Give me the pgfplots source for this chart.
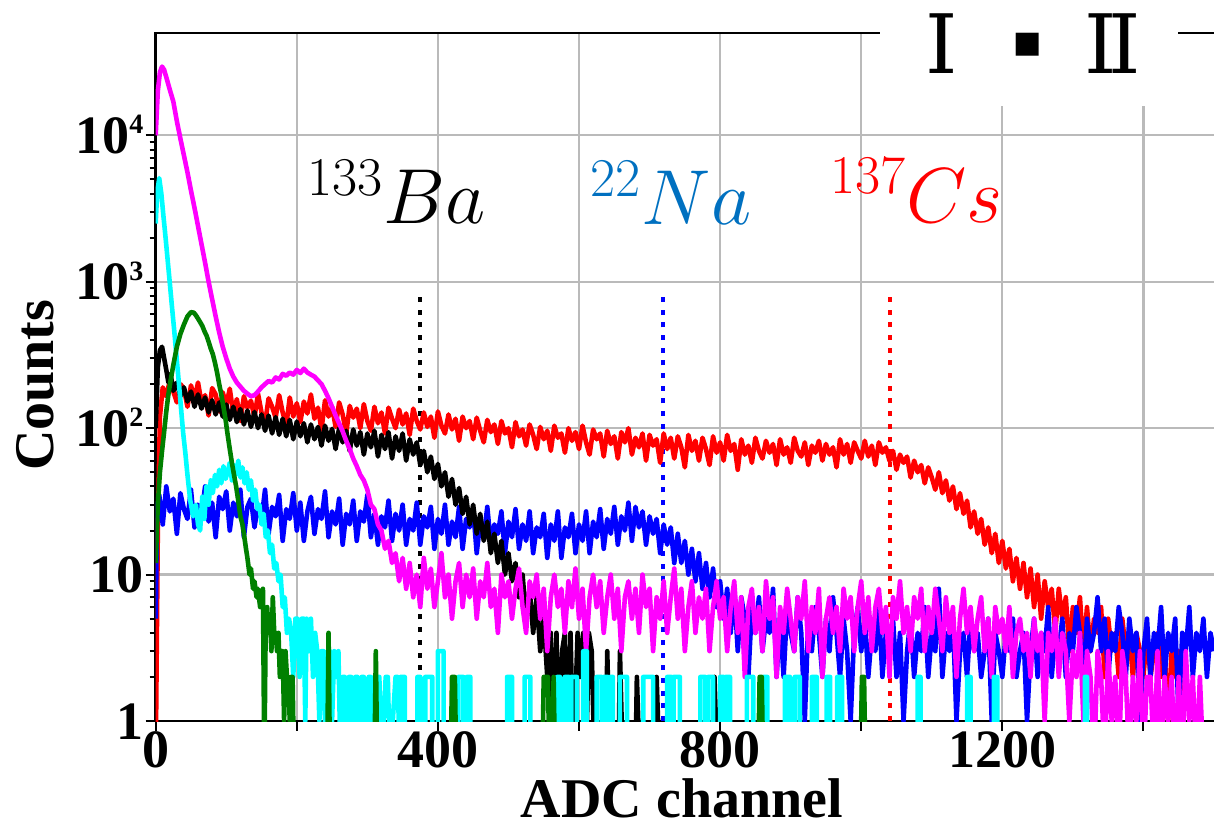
\documentclass[border=0pt]{standalone}
\usepackage{fix-cm}
\usepackage{pgfplots}
\pgfplotsset{compat=1.18}
\usepackage{fontspec}
\setmainfont{Liberation Serif}
\newfontfamily\djv{DejaVu Sans}
\newfontfamily\djs{DejaVu Serif}
\definecolor{cMag}{RGB}{255,0,255}
\definecolor{cCya}{RGB}{0,255,255}
\definecolor{cGrn}{RGB}{0,128,0}
\definecolor{cBlu}{RGB}{0,0,255}
\definecolor{cRed}{RGB}{255,0,0}
\definecolor{cNa}{RGB}{0,112,192}
\newcommand\pw[1]{10\raisebox{9.8bp}{\fontsize{14bp}{14bp}\selectfont #1}}
\begin{document}
\begin{tikzpicture}
\useasboundingbox (-77.85bp,-52bp) rectangle (529.15bp,360.5bp);
\begin{axis}[
  scale only axis, width=530.2bp, height=344bp,
  xmin=0, xmax=1503, ymode=log, ymin=1, ymax=50000,
  xtick={0,200,...,1400}, xticklabels={0,,400,,800,,1200,},
  ytick={1,10,100,1000,10000},
  yticklabels={1,10,\pw{2},\pw{3},\pw{4}},
  tick align=outside, tick pos=left,
  major tick length=5bp, minor tick length=3bp,
  grid=major, major grid style={black!27, line width=1.1bp},
  axis line style={line width=1.2bp},
  every tick/.style={black, line width=1bp},
  tick label style={font=\fontsize{27bp}{30bp}\selectfont\bfseries},
  yticklabel style={anchor=base east, inner sep=0pt, xshift=-1bp, yshift=-9.1bp},
  xticklabel style={anchor=north, inner sep=0pt},
  xlabel={ADC channel}, ylabel={Counts},
  label style={font=\fontsize{28bp}{30bp}\selectfont\bfseries},
  xlabel style={at={(axis description cs:0.4963,-0.1405)}, anchor=base, inner sep=0pt},
  ylabel style={at={(axis description cs:-0.1138,0.488)}, anchor=center, inner sep=0pt},
  every axis plot/.append style={line width=2.3bp, line join=round},
]
\addplot[black, line width=2bp, dash pattern=on 2.5bp off 3.85bp] coordinates {(375,1) (375,875)};
\addplot[cBlu, line width=2bp, dash pattern=on 2.5bp off 3.85bp] coordinates {(719,1) (719,875)};
\addplot[cRed, line width=2bp, dash pattern=on 2.5bp off 3.85bp] coordinates {(1041,1) (1041,875)};
% 137Cs
\addplot[cRed] coordinates {
(0,0.5) (3,20) (6,120) (10,190) (15,165) (20,210) (25,178) (30,150) (35,200) (40,186) (45,140) (50,196) (55,158) (60,205) (65,148) (70,168) (75,122) (80,188) (85,170) (90,130) (95,176) (100,142) (105,186) (110,125) (115,158) (120,112) (125,165) (130,138) (135,154) (140,118) (145,172) (150,128) (155,108) (160,160) (165,140) (170,118) (175,168) (180,128) (185,104) (190,162) (195,120) (200,148) (205,110) (210,152) (215,126) (220,170) (225,116) (230,138) (235,98) (240,155) (245,120) (250,140) (255,102) (260,150) (265,124) (270,92) (275,142) (280,118) (285,136) (290,100) (295,146) (300,112) (305,96) (310,140) (315,108) (320,128) (325,92) (330,138) (335,116) (340,100) (345,134) (350,106) (355,126) (360,90) (365,136) (370,112) (375,98) (380,128) (385,102) (390,120) (395,86) (400,130) (405,104) (410,92) (415,124) (420,98) (425,116) (430,82) (435,120) (440,100) (445,112) (450,84) (455,118) (460,96) (465,80) (470,114) (475,94) (480,106) (485,78) (490,112) (495,92) (500,100) (505,74) (510,110) (515,88) (520,98) (525,76) (530,106) (535,90) (540,72) (545,102) (550,84) (555,96) (560,70) (565,104) (570,86) (575,92) (580,68) (585,100) (590,82) (595,94) (600,72) (605,104) (610,80) (615,66) (620,98) (625,84) (630,92) (635,64) (640,96) (645,78) (650,88) (655,62) (660,94) (665,80) (670,100) (675,66) (680,86) (685,74) (690,92) (695,60) (700,90) (705,76) (710,84) (715,58) (720,92) (725,72) (730,86) (735,62) (740,88) (745,74) (750,54) (755,90) (760,70) (765,82) (770,60) (775,86) (780,72) (785,56) (790,88) (795,68) (800,80) (805,60) (810,90) (815,70) (820,78) (825,52) (830,84) (835,66) (840,76) (845,58) (850,86) (855,70) (860,62) (865,82) (870,68) (875,78) (880,56) (885,84) (890,66) (895,74) (900,58) (905,86) (910,70) (915,64) (920,80) (925,56) (930,76) (935,68) (940,82) (945,60) (950,78) (955,66) (960,74) (965,54) (970,84) (975,66) (980,78) (985,58) (990,80) (995,70) (1000,62) (1005,82) (1010,64) (1015,76) (1020,56) (1025,80) (1030,68) (1035,74) (1040,60) (1045,70) (1050,52) (1055,66) (1060,58) (1065,64) (1070,46) (1075,60) (1080,50) (1085,56) (1090,42) (1095,54) (1100,46) (1105,38) (1110,50) (1115,36) (1120,44) (1125,32) (1130,40) (1135,28) (1140,36) (1145,26) (1150,32) (1155,21) (1160,27) (1165,19) (1170,24) (1175,16) (1180,21) (1185,14) (1190,19) (1195,12) (1200,17) (1205,11) (1210,15) (1215,9) (1220,13) (1225,8) (1230,12) (1235,7) (1240,11) (1245,6) (1250,10) (1255,5) (1260,9) (1265,6) (1270,8) (1275,4) (1280,8) (1285,5) (1290,7) (1295,3) (1300,6) (1305,4) (1310,7) (1315,3) (1320,6) (1325,3) (1330,5) (1335,4) (1340,6) (1345,2) (1350,5) (1355,3) (1360,4) (1365,2) (1370,5) (1375,3) (1380,4) (1385,2) (1390,4) (1395,3) (1400,2) (1405,4) (1410,2) (1415,3) (1420,4) (1425,2) (1430,3) (1435,1) (1440,3) (1445,2) (1450,3) (1455,1) (1460,0.5)
};
% 22Na
\addplot[cBlu] coordinates {
(0,5) (2,28) (5,35) (10,22) (15,40) (20,27) (25,33) (30,19) (35,36) (40,28) (45,24) (50,38) (55,21) (60,30) (65,26) (70,40) (75,23) (80,31) (85,18) (90,34) (95,28) (100,37) (105,20) (110,31) (115,25) (120,38) (125,18) (130,29) (135,33) (140,21) (145,30) (150,24) (155,38) (160,19) (165,29) (170,25) (175,35) (180,17) (185,28) (190,24) (195,36) (200,20) (205,31) (210,17) (215,27) (220,34) (225,19) (230,28) (235,24) (240,37) (245,18) (250,27) (255,22) (260,33) (265,16) (270,26) (275,22) (280,32) (285,17) (290,27) (295,23) (300,35) (305,18) (310,26) (315,16) (320,25) (325,21) (330,32) (335,17) (340,26) (345,20) (350,30) (355,16) (360,24) (365,20) (370,31) (375,16) (380,25) (385,21) (390,29) (395,15) (400,24) (405,19) (410,30) (415,16) (420,23) (425,18) (430,29) (435,15) (440,24) (445,21) (450,28) (455,14) (460,23) (465,18) (470,29) (475,16) (480,22) (485,19) (490,27) (495,14) (500,23) (505,18) (510,28) (515,15) (520,22) (525,17) (530,27) (535,14) (540,21) (545,18) (550,26) (555,13) (560,22) (565,17) (570,27) (575,13) (580,21) (585,18) (590,26) (595,14) (600,22) (605,17) (610,27) (615,14) (620,23) (625,18) (630,28) (635,15) (640,24) (645,19) (650,29) (655,16) (660,25) (665,20) (670,31) (675,17) (680,29) (685,21) (690,27) (695,16) (700,25) (705,19) (710,24) (715,14) (720,22) (725,16) (730,21) (735,12) (740,19) (745,12) (750,17) (755,10) (760,15) (765,9) (770,14) (775,8) (780,12) (785,7) (790,11) (795,6) (800,9) (805,5) (810,8) (815,4) (820,8) (825,3) (830,7) (835,5) (840,2) (845,6) (850,4) (855,7) (860,3) (865,5) (870,4) (875,8) (880,2) (885,5) (890,2) (895,6) (900,4) (905,3) (910,7) (915,4) (920,1) (925,5) (930,3) (935,6) (940,4) (945,2) (950,5) (955,3) (960,7) (965,4) (970,2) (975,5) (980,3) (985,1) (990,4) (995,6) (1000,3) (1005,5) (1010,2) (1015,4) (1020,3) (1025,6) (1030,2) (1035,4) (1040,3) (1045,5) (1050,2) (1055,4) (1060,1) (1065,3) (1070,5) (1075,2) (1080,4) (1085,3) (1090,6) (1095,2) (1100,4) (1105,3) (1110,8) (1115,2) (1120,4) (1125,3) (1130,5) (1135,1) (1140,3) (1145,4) (1150,2) (1155,5) (1160,3) (1165,4) (1170,2) (1175,3) (1180,5) (1185,1) (1190,4) (1195,3) (1200,2) (1205,4) (1210,3) (1215,5) (1220,2) (1225,3) (1230,4) (1235,1) (1240,3) (1245,5) (1250,2) (1255,4) (1260,3) (1265,6) (1270,2) (1275,4) (1280,3) (1285,5) (1290,2) (1295,4) (1300,3) (1305,6) (1310,4) (1315,2) (1320,5) (1325,3) (1330,4) (1335,7) (1340,3) (1345,5) (1350,2) (1355,4) (1360,3) (1365,6) (1370,4) (1375,2) (1380,5) (1385,3) (1390,4) (1395,1) (1400,3) (1405,5) (1410,2) (1415,4) (1420,3) (1425,6) (1430,2) (1435,4) (1440,3) (1445,5) (1450,1) (1455,4) (1460,3) (1465,6) (1470,2) (1475,4) (1480,3) (1485,5) (1490,2) (1495,4) (1500,3)
};
% 133Ba
\addplot[black] coordinates {
(0,100) (3,260) (6,340) (9,360) (12,300) (15,250) (18,205) (21,235) (25,180) (30,205) (35,165) (40,190) (45,152) (50,178) (55,140) (60,170) (65,136) (70,162) (75,128) (80,155) (85,124) (90,150) (95,120) (100,145) (105,114) (110,140) (115,110) (120,135) (125,106) (130,132) (135,102) (140,129) (145,100) (150,124) (155,96) (160,122) (165,92) (170,119) (175,90) (180,116) (185,88) (190,114) (195,84) (200,111) (205,88) (210,108) (215,80) (220,106) (225,84) (230,102) (235,76) (240,104) (245,82) (250,99) (255,72) (260,100) (265,80) (270,96) (275,70) (280,98) (285,76) (290,94) (295,66) (300,92) (305,74) (310,96) (315,64) (320,90) (325,72) (330,94) (335,62) (340,88) (345,70) (350,92) (355,60) (360,84) (365,66) (370,80) (375,56) (380,70) (385,50) (390,64) (395,45) (400,57) (405,40) (410,50) (415,34) (420,45) (425,30) (430,39) (435,26) (440,34) (445,22) (450,30) (455,19) (460,26) (465,17) (470,23) (475,14) (480,19) (485,12) (490,17) (495,10) (500,14) (505,9) (510,12) (515,7) (520,10) (525,5) (530,8) (535,4) (540,7) (545,3) (550,5) (555,2) (560,4) (563,0.5) (568,4) (572,0.5) (576,3) (580,4) (584,0.5) (588,4) (592,0.5) (598,4) (602,2) (606,4) (610,0.5) (614,4) (618,3) (622,0.5) (638,0.5) (640,3) (644,0.5) (656,0.5) (658,3) (662,0.5) (680,0.5) (682,2) (686,0.5) (708,0.5) (710,2) (714,0.5) (790,0.5) (792,2) (796,0.5)
};
% magenta
\addplot[cMag] coordinates {
(0,10000) (3,20000) (6,27000) (9,29500) (12,28000) (16,24000) (20,20500) (25,17000) (30,12500) (35,9500) (40,7300) (45,5600) (50,4200) (55,3200) (60,2400) (65,1800) (70,1350) (75,1000) (80,760) (85,580) (90,450) (95,360) (100,300) (105,255) (110,225) (115,205) (120,192) (125,180) (130,172) (135,165) (140,168) (145,178) (150,190) (155,200) (160,210) (165,205) (170,222) (175,215) (180,235) (185,228) (190,240) (195,232) (200,250) (205,238) (210,255) (215,240) (220,232) (225,225) (230,212) (235,200) (240,180) (245,160) (250,140) (255,122) (260,108) (265,95) (270,82) (275,72) (280,62) (285,55) (290,48) (295,44) (300,38) (305,30) (310,28) (315,22) (320,20) (325,15) (330,17) (335,12) (340,14) (345,9) (350,13)
(355,8) (360,12) (365,7) (370,10) (375,6) (380,13) (385,8) (390,11) (395,6) (400,9) (405,14) (410,7) (415,10) (420,5) (425,9) (430,12) (435,6) (440,10) (445,7) (450,11) (455,5) (460,9) (465,7) (470,12) (475,6) (480,8) (485,4) (490,10) (495,7)
(500,9) (505,5) (510,8) (515,11) (520,6) (525,4) (530,9) (535,7) (540,10) (545,5) (550,8) (555,3) (560,7) (565,10) (570,6) (575,8) (580,4) (585,9) (590,6) (595,11) (600,5) (605,8) (610,3) (615,7) (620,10) (625,6) (630,9) (635,4) (640,7) (645,10) (650,5) (655,8) (660,3) (665,7) (670,9) (675,5) (680,8) (685,4) (690,10) (695,6) (700,8) (705,3) (710,7) (715,5) (720,9) (725,4) (730,7) (735,11) (740,5) (745,8) (750,3) (755,6) (760,9) (765,4) (770,7) (775,5) (780,8) (785,3) (790,6) (795,9)
(800,5) (805,7) (810,3) (815,6) (820,9) (825,4) (830,7) (835,2) (840,6) (845,8) (850,4) (855,6) (860,3) (865,9) (870,5) (875,7) (880,2) (885,6) (890,4) (895,8) (900,5) (905,3) (910,7) (915,5) (920,9) (925,3) (930,6) (935,4) (940,8) (945,2) (950,5) (955,7) (960,4) (965,6) (970,3) (975,8) (980,5) (985,7) (990,3) (995,6) (1000,9) (1005,4) (1010,7) (1015,3) (1020,6) (1025,8) (1030,4) (1035,6) (1040,2) (1045,7) (1050,5) (1055,9) (1060,4) (1065,6) (1070,3) (1075,7) (1080,5) (1085,8) (1090,3) (1095,6) (1100,4) (1105,8) (1110,5) (1115,3) (1120,7) (1125,4) (1130,6) (1135,2) (1140,5) (1145,8) (1150,4) (1155,6) (1160,3) (1165,5) (1170,7) (1175,3) (1180,5) (1185,2) (1190,6) (1195,4)
(1200,5) (1205,3) (1210,6) (1215,2) (1220,4) (1225,5) (1230,3) (1235,4) (1240,2) (1245,5) (1250,3) (1255,4) (1260,1) (1265,4) (1270,3) (1275,5) (1280,2) (1285,4) (1290,3) (1295,1)
(1300,3) (1305,2) (1310,4) (1315,1) (1320,3) (1325,2) (1330,0.5) (1335,3) (1340,2) (1345,0.5) (1350,3) (1355,1) (1360,2) (1365,0.5) (1370,3) (1375,2) (1380,0.5) (1385,2) (1390,1) (1395,3) (1400,0.5) (1405,2) (1410,2) (1415,0.5) (1420,3) (1425,0.5) (1430,2) (1435,1) (1440,2) (1445,0.5) (1450,2) (1455,0.5) (1460,3) (1465,1) (1470,2) (1475,0.5) (1480,2) (1485,0.5) (1490,0.5)
};
% cyan
\addplot[cCya] coordinates {
(0,2500) (2,4000) (5,5100) (8,4000) (11,2800) (14,2000) (17,1400) (20,980) (23,680) (26,480) (30,290) (33,200) (36,135) (39,92) (42,68) (45,48) (49,32) (53,25) (57,30) (60,22) (63,20) (66,34) (69,24) (72,40) (75,30) (78,44) (81,36) (84,48) (87,40) (90,52) (93,42) (96,55) (99,45) (102,50) (105,58) (108,44) (111,56) (114,48) (117,60) (120,46) (123,54) (126,42) (129,50) (132,38) (135,44) (138,32) (141,38) (144,28) (147,30) (150,22) (153,26) (156,18) (159,20) (162,14) (165,16) (168,11) (171,12) (174,9) (177,10) (180,6) (183,7) (186,4) (189,5) (192,4) (195,2) (198,5) (201,5) (204,2) (207,5) (210,5) (212,1) (214,5) (217,3) (220,5) (223,2) (226,4) (229,3) (232,1) (235,3) (238,3) (241,0.5) (244,3) (247,3) (250,1) (253,3) (256,2) (259,3) (262,0.5) (265,2) (268,2) (271,0.5) (274,2) (277,2) (280,0.5) (283,2) (286,2) (289,0.5) (292,2) (295,2) (298,0.5) (302,2) (305,2) (308,0.5) (314,2) (317,2) (320,0.5) (326,2) (329,2) (332,0.5) (340,2) (343,2) (346,0.5)
(347,0.5) (347,2) (353,2) (353,0.5) (371,0.5) (371,2) (375,2) (375,0.5) (382,0.5) (382,2) (392,2) (392,0.5) (400,0.5) (400,3) (408,3) (408,0.5) (429,0.5) (429,2) (436,2) (436,0.5) (441,0.5) (441,2) (446,2) (446,0.5) (498,0.5) (498,2) (505,2) (505,0.5) (523,0.5) (523,2) (531,2) (531,0.5) (569,0.5) (569,2) (573,2) (573,0.5) (580,0.5) (580,2) (586,2) (586,0.5) (589,0.5) (589,2) (597,2) (597,0.5) (606,0.5) (606,3) (611,3) (611,0.5) (625,0.5) (625,2) (632,2) (632,0.5) (635,0.5) (635,2) (641,2) (641,0.5) (644,0.5) (644,2) (648,2) (648,0.5) (658,0.5) (658,2) (668,2) (668,0.5) (691,0.5) (691,2) (705,2) (705,0.5) (725,0.5) (725,2) (731,2) (731,0.5) (734,0.5) (734,2) (743,2) (743,0.5) (772,0.5) (772,2) (779,2) (779,0.5) (783,0.5) (783,2) (790,2) (790,0.5) (800,0.5) (800,2) (805,2) (805,0.5) (808,0.5) (808,2) (814,2) (814,0.5) (838,0.5) (838,2) (847,2) (847,0.5) (861,0.5) (861,2) (867,2) (867,0.5) (892,0.5) (892,2) (899,2) (899,0.5) (906,0.5) (906,2) (913,2) (913,0.5) (930,0.5) (930,2) (937,2) (937,0.5) (951,0.5) (951,2) (956,2) (956,0.5) (966,0.5) (966,2) (973,2) (973,0.5) (1080,0.5) (1080,2) (1084,2) (1084,0.5) (1150,0.5) (1150,2) (1155,2) (1155,0.5) (1188,0.5) (1188,2) (1193,2) (1193,0.5) (1317,0.5) (1317,2) (1320,2) (1320,0.5)
};
% green
\addplot[cGrn] coordinates {
(0,12) (3,30) (6,50) (9,70) (12,95) (15,130) (18,170) (21,210) (25,270) (30,360) (35,440) (40,510) (45,580) (50,620) (54,615) (57,590) (60,560) (63,530) (66,500) (69,460) (72,430) (75,390) (78,350) (81,320) (84,280) (87,240) (90,200) (93,170) (96,140) (99,115) (102,90) (105,72) (108,58) (111,48) (114,40) (117,32) (120,25) (123,22) (125,19) (128,15) (130,13) (133,10) (135,11) (138,8) (140,9) (143,7) (145,8) (148,6) (150,7) (152,8) (154,0.5) (156,5) (158,6) (160,4) (162,5) (164,3) (166,7) (168,4) (170,4) (172,3) (174,4) (176,2) (178,3) (180,3) (182,1) (184,3) (186,2) (188,2) (190,1) (192,2) (194,2) (196,0.5)
(243,0.5) (245,4) (247,0.5) (310,0.5) (312,3) (314,0.5) (418,0.5) (420,2) (424,2) (426,0.5) (548,0.5) (550,2) (556,2) (558,0.5) (562,0.5) (564,2) (566,0.5) (854,0.5) (856,2) (859,2) (861,0.5) (999,0.5) (1001,2) (1004,2) (1006,0.5)
};
\node[anchor=base west, inner sep=0pt, font=\fontsize{39bp}{42bp}\selectfont] at (axis cs:214,2507) {$^{133}Ba$};
\node[anchor=base west, inner sep=0pt, text=cNa, font=\fontsize{39bp}{42bp}\selectfont] at (axis cs:616,2468) {$^{22}Na$};
\node[anchor=base west, inner sep=0pt, text=cRed, font=\fontsize{39bp}{42bp}\selectfont] at (axis cs:956,2547) {$^{137}Cs$};
\end{axis}
\fill[white] (362.15bp,307.5bp) rectangle (511.15bp,365bp);
\node[inner sep=0pt, font=\djs\fontsize{41bp}{44bp}\selectfont] at (392.9bp,338.5bp) {I};
\node[inner sep=0pt, font=\djv\fontsize{15bp}{16bp}\selectfont] at (435.9bp,338.2bp) {■};
\node[inner sep=0pt, font=\djs\fontsize{41bp}{44bp}\selectfont] at (478.4bp,338.5bp) {I\kern-0.1em I};
\end{tikzpicture}
\end{document}
